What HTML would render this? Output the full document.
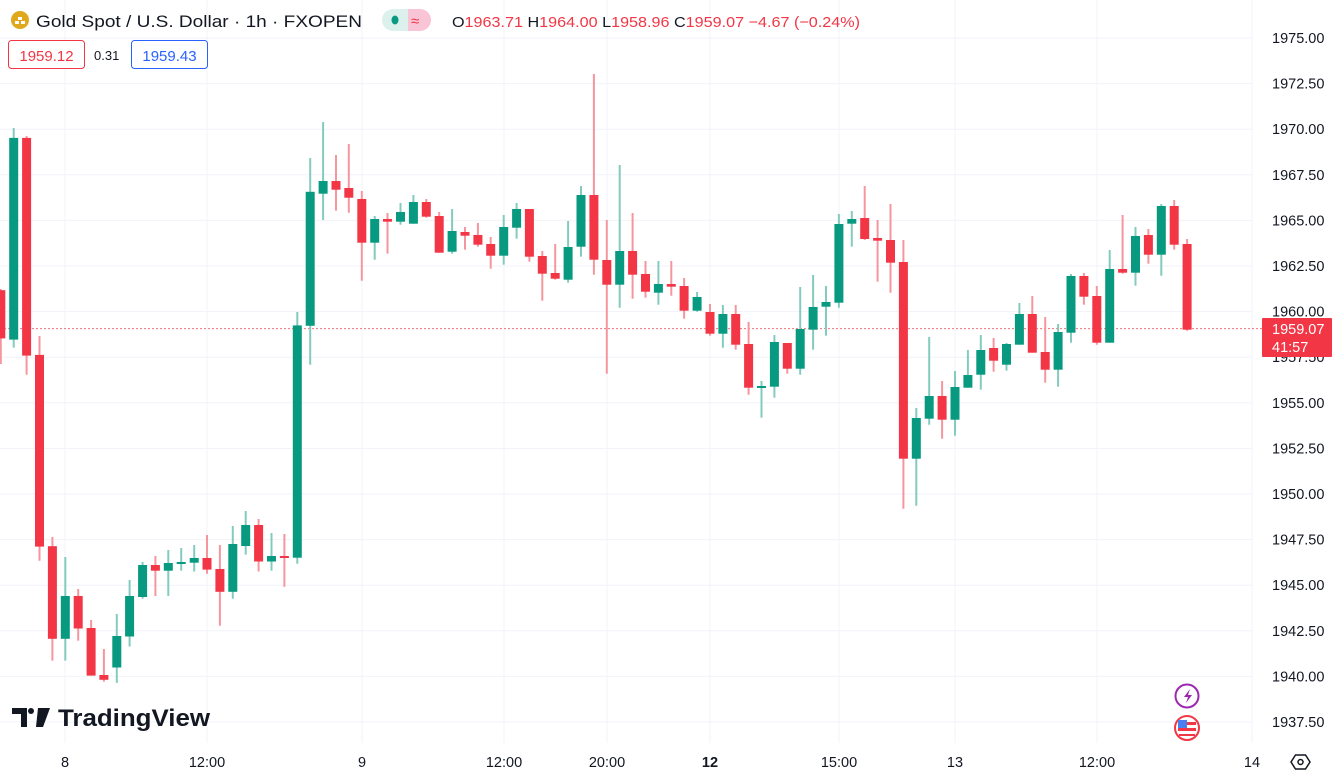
<!DOCTYPE html>
<html><head><meta charset="utf-8"><style>
html,body{margin:0;padding:0;background:#fff;width:1336px;height:778px;overflow:hidden}
svg{display:block;font-family:"Liberation Sans",sans-serif}
.g line{stroke:#84cbbf;stroke-width:2}.g rect{fill:#089981}
.r line{stroke:#f5969f;stroke-width:2}.r rect{fill:#f23645}
.ax{font-size:14.5px;fill:#131722}
</style></head><body>
<svg width="1336" height="778" viewBox="0 0 1336 778">
<g stroke="#f0f3fa" stroke-width="1">
<line x1="0" x2="1252" y1="38" y2="38"/><line x1="0" x2="1252" y1="83.6" y2="83.6"/><line x1="0" x2="1252" y1="129.2" y2="129.2"/><line x1="0" x2="1252" y1="174.8" y2="174.8"/><line x1="0" x2="1252" y1="220.4" y2="220.4"/><line x1="0" x2="1252" y1="266" y2="266"/><line x1="0" x2="1252" y1="311.6" y2="311.6"/><line x1="0" x2="1252" y1="357.2" y2="357.2"/><line x1="0" x2="1252" y1="402.8" y2="402.8"/><line x1="0" x2="1252" y1="448.4" y2="448.4"/><line x1="0" x2="1252" y1="494" y2="494"/><line x1="0" x2="1252" y1="539.6" y2="539.6"/><line x1="0" x2="1252" y1="585.2" y2="585.2"/><line x1="0" x2="1252" y1="630.8" y2="630.8"/><line x1="0" x2="1252" y1="676.4" y2="676.4"/><line x1="0" x2="1252" y1="722" y2="722"/>
<line x1="65" x2="65" y1="0" y2="743"/><line x1="207" x2="207" y1="0" y2="743"/><line x1="362" x2="362" y1="0" y2="743"/><line x1="504" x2="504" y1="0" y2="743"/><line x1="607" x2="607" y1="0" y2="743"/><line x1="710" x2="710" y1="0" y2="743"/><line x1="839" x2="839" y1="0" y2="743"/><line x1="955" x2="955" y1="0" y2="743"/><line x1="1097" x2="1097" y1="0" y2="743"/><line x1="1252" x2="1252" y1="0" y2="743"/>
</g>
<line x1="0" x2="1262" y1="328.6" y2="328.6" stroke="#f23645" stroke-width="1" stroke-dasharray="2,2" opacity="0.7"/>
<g class="r"><line x1="0.8" x2="0.8" y1="289" y2="364"/><rect x="-3.7" y="290.2" width="9" height="48.2"/></g>
<g class="g"><line x1="13.7" x2="13.7" y1="128" y2="347.6"/><rect x="9.2" y="137.9" width="9" height="201.7"/></g>
<g class="r"><line x1="26.6" x2="26.6" y1="136" y2="374.8"/><rect x="22.1" y="137.9" width="9" height="217.7"/></g>
<g class="r"><line x1="39.5" x2="39.5" y1="336" y2="560.8"/><rect x="35" y="354.9" width="9" height="191.7"/></g>
<g class="r"><line x1="52.4" x2="52.4" y1="537" y2="660.6"/><rect x="47.9" y="546.2" width="9" height="92.6"/></g>
<g class="g"><line x1="65.3" x2="65.3" y1="557" y2="660.6"/><rect x="60.8" y="596" width="9" height="42.8"/></g>
<g class="r"><line x1="78.2" x2="78.2" y1="589" y2="640.7"/><rect x="73.7" y="596" width="9" height="32.5"/></g>
<g class="r"><line x1="91.1" x2="91.1" y1="620" y2="675.6"/><rect x="86.6" y="628" width="9" height="47.6"/></g>
<g class="r"><line x1="103.9" x2="103.9" y1="649" y2="681.7"/><rect x="99.4" y="675" width="9" height="4.8"/></g>
<g class="g"><line x1="116.8" x2="116.8" y1="614" y2="682.9"/><rect x="112.3" y="636" width="9" height="31.5"/></g>
<g class="g"><line x1="129.6" x2="129.6" y1="580" y2="646.5"/><rect x="125.1" y="596" width="9" height="40.5"/></g>
<g class="g"><line x1="142.6" x2="142.6" y1="562" y2="598.7"/><rect x="138.1" y="565" width="9" height="32"/></g>
<g class="r"><line x1="155.4" x2="155.4" y1="556" y2="596"/><rect x="150.9" y="565" width="9" height="5.7"/></g>
<g class="g"><line x1="168.3" x2="168.3" y1="550" y2="596"/><rect x="163.8" y="563" width="9" height="7.7"/></g>
<g class="g"><line x1="181.2" x2="181.2" y1="548" y2="570.7"/><rect x="176.7" y="562" width="9" height="2"/></g>
<g class="g"><line x1="194.2" x2="194.2" y1="545" y2="571.5"/><rect x="189.7" y="558" width="9" height="4.7"/></g>
<g class="r"><line x1="207" x2="207" y1="535" y2="573.8"/><rect x="202.5" y="558" width="9" height="11.6"/></g>
<g class="r"><line x1="219.9" x2="219.9" y1="545" y2="625.8"/><rect x="215.4" y="569" width="9" height="22.8"/></g>
<g class="g"><line x1="232.8" x2="232.8" y1="526" y2="598.7"/><rect x="228.3" y="544" width="9" height="47.8"/></g>
<g class="g"><line x1="245.7" x2="245.7" y1="511" y2="554.6"/><rect x="241.2" y="525" width="9" height="21"/></g>
<g class="r"><line x1="258.6" x2="258.6" y1="519" y2="571.5"/><rect x="254.1" y="525" width="9" height="36.5"/></g>
<g class="g"><line x1="271.5" x2="271.5" y1="533" y2="570.7"/><rect x="267" y="556" width="9" height="5.5"/></g>
<g class="r"><line x1="284.4" x2="284.4" y1="534" y2="586.8"/><rect x="279.9" y="556" width="9" height="2"/></g>
<g class="g"><line x1="297.3" x2="297.3" y1="312" y2="563.8"/><rect x="292.8" y="325.4" width="9" height="232.3"/></g>
<g class="g"><line x1="310.2" x2="310.2" y1="158" y2="364.8"/><rect x="305.7" y="191.8" width="9" height="134"/></g>
<g class="g"><line x1="323.1" x2="323.1" y1="122" y2="220"/><rect x="318.6" y="181" width="9" height="12.7"/></g>
<g class="r"><line x1="336" x2="336" y1="155" y2="210.7"/><rect x="331.5" y="181" width="9" height="8.7"/></g>
<g class="r"><line x1="348.8" x2="348.8" y1="144" y2="212.7"/><rect x="344.3" y="188" width="9" height="9.7"/></g>
<g class="r"><line x1="361.8" x2="361.8" y1="191" y2="280.7"/><rect x="357.3" y="199" width="9" height="43.7"/></g>
<g class="g"><line x1="374.7" x2="374.7" y1="216" y2="259.7"/><rect x="370.2" y="219" width="9" height="23.7"/></g>
<g class="r"><line x1="387.5" x2="387.5" y1="213" y2="253.7"/><rect x="383" y="219" width="9" height="2.7"/></g>
<g class="g"><line x1="400.5" x2="400.5" y1="203" y2="224.7"/><rect x="396" y="212" width="9" height="9.7"/></g>
<g class="g"><line x1="413.4" x2="413.4" y1="195" y2="223.7"/><rect x="408.9" y="202" width="9" height="21.7"/></g>
<g class="r"><line x1="426.3" x2="426.3" y1="199" y2="217.7"/><rect x="421.8" y="202" width="9" height="14.7"/></g>
<g class="r"><line x1="439.2" x2="439.2" y1="212" y2="252.7"/><rect x="434.7" y="216" width="9" height="36.7"/></g>
<g class="g"><line x1="452.1" x2="452.1" y1="209" y2="253.7"/><rect x="447.6" y="231" width="9" height="20.7"/></g>
<g class="r"><line x1="465" x2="465" y1="227" y2="249.7"/><rect x="460.5" y="232" width="9" height="3.7"/></g>
<g class="r"><line x1="477.9" x2="477.9" y1="223" y2="246.7"/><rect x="473.4" y="235" width="9" height="9.7"/></g>
<g class="r"><line x1="490.7" x2="490.7" y1="237" y2="268.7"/><rect x="486.2" y="244" width="9" height="11.7"/></g>
<g class="g"><line x1="503.7" x2="503.7" y1="215" y2="264.7"/><rect x="499.2" y="227" width="9" height="28.7"/></g>
<g class="g"><line x1="516.6" x2="516.6" y1="203" y2="238.7"/><rect x="512.1" y="209" width="9" height="18.7"/></g>
<g class="r"><line x1="529.4" x2="529.4" y1="209" y2="261.7"/><rect x="524.9" y="209" width="9" height="47.7"/></g>
<g class="r"><line x1="542.3" x2="542.3" y1="251" y2="300.7"/><rect x="537.8" y="256" width="9" height="17.7"/></g>
<g class="r"><line x1="555.2" x2="555.2" y1="244" y2="279.7"/><rect x="550.7" y="273" width="9" height="5.7"/></g>
<g class="g"><line x1="568.1" x2="568.1" y1="221" y2="282.7"/><rect x="563.6" y="247" width="9" height="32.7"/></g>
<g class="g"><line x1="581" x2="581" y1="186" y2="256.7"/><rect x="576.5" y="195" width="9" height="51.7"/></g>
<g class="r"><line x1="593.9" x2="593.9" y1="74" y2="274.7"/><rect x="589.4" y="195" width="9" height="64.7"/></g>
<g class="r"><line x1="606.8" x2="606.8" y1="220" y2="373.7"/><rect x="602.3" y="260" width="9" height="24.7"/></g>
<g class="g"><line x1="619.7" x2="619.7" y1="165" y2="307.7"/><rect x="615.2" y="251" width="9" height="33.7"/></g>
<g class="r"><line x1="632.6" x2="632.6" y1="213" y2="298.7"/><rect x="628.1" y="251" width="9" height="23.7"/></g>
<g class="r"><line x1="645.5" x2="645.5" y1="261" y2="297.7"/><rect x="641" y="274" width="9" height="17.7"/></g>
<g class="g"><line x1="658.4" x2="658.4" y1="261" y2="304.7"/><rect x="653.9" y="284" width="9" height="8.7"/></g>
<g class="r"><line x1="671.3" x2="671.3" y1="261" y2="295.7"/><rect x="666.8" y="284" width="9" height="2.7"/></g>
<g class="r"><line x1="684.1" x2="684.1" y1="278" y2="318.7"/><rect x="679.6" y="286" width="9" height="24.7"/></g>
<g class="g"><line x1="697.1" x2="697.1" y1="292" y2="311.7"/><rect x="692.6" y="297" width="9" height="13.7"/></g>
<g class="r"><line x1="710" x2="710" y1="304" y2="335.7"/><rect x="705.5" y="312" width="9" height="21.7"/></g>
<g class="g"><line x1="722.9" x2="722.9" y1="305" y2="347.7"/><rect x="718.4" y="314" width="9" height="19.7"/></g>
<g class="r"><line x1="735.7" x2="735.7" y1="305" y2="349.7"/><rect x="731.2" y="314" width="9" height="30.7"/></g>
<g class="r"><line x1="748.6" x2="748.6" y1="322" y2="394.7"/><rect x="744.1" y="344" width="9" height="43.7"/></g>
<g class="g"><line x1="761.5" x2="761.5" y1="381" y2="417.7"/><rect x="757" y="386" width="9" height="2"/></g>
<g class="g"><line x1="774.4" x2="774.4" y1="335" y2="397.7"/><rect x="769.9" y="342" width="9" height="44.7"/></g>
<g class="r"><line x1="787.3" x2="787.3" y1="343" y2="373.7"/><rect x="782.8" y="343" width="9" height="25.7"/></g>
<g class="g"><line x1="800.2" x2="800.2" y1="287" y2="374.7"/><rect x="795.7" y="329" width="9" height="39.7"/></g>
<g class="g"><line x1="813.1" x2="813.1" y1="275" y2="349.7"/><rect x="808.6" y="307" width="9" height="22.7"/></g>
<g class="g"><line x1="826" x2="826" y1="286" y2="335.7"/><rect x="821.5" y="302" width="9" height="4.7"/></g>
<g class="g"><line x1="838.9" x2="838.9" y1="214" y2="307.7"/><rect x="834.4" y="224" width="9" height="78.7"/></g>
<g class="g"><line x1="851.8" x2="851.8" y1="211" y2="246.7"/><rect x="847.3" y="219" width="9" height="4.7"/></g>
<g class="r"><line x1="864.7" x2="864.7" y1="186" y2="240"/><rect x="860.2" y="218" width="9" height="21"/></g>
<g class="r"><line x1="877.6" x2="877.6" y1="220" y2="281.7"/><rect x="873.1" y="238" width="9" height="2.7"/></g>
<g class="r"><line x1="890.5" x2="890.5" y1="204" y2="292.7"/><rect x="886" y="240" width="9" height="22.7"/></g>
<g class="r"><line x1="903.4" x2="903.4" y1="240" y2="508.7"/><rect x="898.9" y="262" width="9" height="196.7"/></g>
<g class="g"><line x1="916.3" x2="916.3" y1="408" y2="505.7"/><rect x="911.8" y="418" width="9" height="40.7"/></g>
<g class="g"><line x1="929.2" x2="929.2" y1="337" y2="424.7"/><rect x="924.7" y="396" width="9" height="22.7"/></g>
<g class="r"><line x1="942.1" x2="942.1" y1="381" y2="438.7"/><rect x="937.6" y="396" width="9" height="23.7"/></g>
<g class="g"><line x1="955" x2="955" y1="371" y2="435.7"/><rect x="950.5" y="387" width="9" height="32.7"/></g>
<g class="g"><line x1="967.9" x2="967.9" y1="350" y2="387.7"/><rect x="963.4" y="375" width="9" height="12.7"/></g>
<g class="g"><line x1="980.8" x2="980.8" y1="335" y2="389.7"/><rect x="976.3" y="350" width="9" height="24.7"/></g>
<g class="r"><line x1="993.6" x2="993.6" y1="338" y2="371.7"/><rect x="989.1" y="348" width="9" height="12.7"/></g>
<g class="g"><line x1="1006.5" x2="1006.5" y1="343" y2="370.7"/><rect x="1002" y="344" width="9" height="20.7"/></g>
<g class="g"><line x1="1019.4" x2="1019.4" y1="303" y2="344.7"/><rect x="1014.9" y="314" width="9" height="30.7"/></g>
<g class="r"><line x1="1032.3" x2="1032.3" y1="296" y2="352.7"/><rect x="1027.8" y="314" width="9" height="38.7"/></g>
<g class="r"><line x1="1045.2" x2="1045.2" y1="317" y2="382.7"/><rect x="1040.7" y="352" width="9" height="17.7"/></g>
<g class="g"><line x1="1058.1" x2="1058.1" y1="324" y2="386.7"/><rect x="1053.6" y="332" width="9" height="37.7"/></g>
<g class="g"><line x1="1071" x2="1071" y1="274" y2="342.7"/><rect x="1066.5" y="276" width="9" height="56.7"/></g>
<g class="r"><line x1="1083.9" x2="1083.9" y1="273" y2="304.7"/><rect x="1079.4" y="276" width="9" height="20.7"/></g>
<g class="r"><line x1="1096.8" x2="1096.8" y1="286" y2="344.7"/><rect x="1092.3" y="296" width="9" height="46.7"/></g>
<g class="g"><line x1="1109.7" x2="1109.7" y1="250" y2="342.7"/><rect x="1105.2" y="269" width="9" height="73.7"/></g>
<g class="r"><line x1="1122.6" x2="1122.6" y1="215" y2="273.7"/><rect x="1118.1" y="269" width="9" height="3.7"/></g>
<g class="g"><line x1="1135.5" x2="1135.5" y1="227" y2="285.7"/><rect x="1131" y="236" width="9" height="36.7"/></g>
<g class="r"><line x1="1148.4" x2="1148.4" y1="229" y2="263.7"/><rect x="1143.9" y="235" width="9" height="19.7"/></g>
<g class="g"><line x1="1161.3" x2="1161.3" y1="204" y2="275.7"/><rect x="1156.8" y="206" width="9" height="48.7"/></g>
<g class="r"><line x1="1174.2" x2="1174.2" y1="200" y2="249.7"/><rect x="1169.7" y="206" width="9" height="38.7"/></g>
<g class="r"><line x1="1187.1" x2="1187.1" y1="239" y2="330.7"/><rect x="1182.6" y="244" width="9" height="85.7"/></g>

<g class="ax" text-anchor="start">
<text x="1272" y="43">1975.00</text><text x="1272" y="88.6">1972.50</text><text x="1272" y="134.2">1970.00</text><text x="1272" y="179.8">1967.50</text><text x="1272" y="225.4">1965.00</text><text x="1272" y="271">1962.50</text><text x="1272" y="316.6">1960.00</text><text x="1272" y="362.2">1957.50</text><text x="1272" y="407.8">1955.00</text><text x="1272" y="453.4">1952.50</text><text x="1272" y="499">1950.00</text><text x="1272" y="544.6">1947.50</text><text x="1272" y="590.2">1945.00</text><text x="1272" y="635.8">1942.50</text><text x="1272" y="681.4">1940.00</text><text x="1272" y="727">1937.50</text>
</g>
<rect x="1262" y="318" width="70" height="39" fill="#f23645" rx="1"/>
<text x="1272" y="334" font-size="14.5" fill="#fff">1959.07</text>
<text x="1272" y="352" font-size="14.5" fill="#fff">41:57</text>

<g class="ax" text-anchor="middle">
<text x="65" y="767">8</text><text x="207" y="767">12:00</text><text x="362" y="767">9</text><text x="504" y="767">12:00</text><text x="607" y="767">20:00</text><text x="710" y="767" font-weight="bold">12</text><text x="839" y="767">15:00</text><text x="955" y="767">13</text><text x="1097" y="767">12:00</text><text x="1252" y="767">14</text>
</g>
<polygon points="1291,762 1295.5,755 1305.5,755 1310,762 1305.5,769 1295.5,769" fill="none" stroke="#131722" stroke-width="1.5"/>
<circle cx="1300.5" cy="762" r="2.5" fill="none" stroke="#131722" stroke-width="1.5"/>

<circle cx="20" cy="20" r="9" fill="#e0a81c"/>
<path d="M15 24h4v-3h-4zM21 24h4v-3h-4zM18 20h4v-3h-4z" fill="#fff"/>
<text x="36" y="27" font-size="17" fill="#131722" textLength="326" lengthAdjust="spacingAndGlyphs">Gold Spot / U.S. Dollar · 1h · FXOPEN</text>
<rect x="382" y="9" width="26" height="22" rx="11" fill="#dcf1ec"/>
<rect x="395" y="9" width="36" height="22" rx="11" fill="#f8c4d6"/>
<rect x="395" y="9" width="13" height="22" fill="#dcf1ec"/>
<ellipse cx="395" cy="20" rx="3.5" ry="4.5" fill="#089981"/>
<text x="411" y="26" font-size="15" fill="#f23645">≈</text>
<text x="452" y="27" font-size="15" fill="#131722" textLength="408" lengthAdjust="spacingAndGlyphs">O<tspan fill="#f23645">1963.71</tspan> H<tspan fill="#f23645">1964.00</tspan> L<tspan fill="#f23645">1958.96</tspan> C<tspan fill="#f23645">1959.07</tspan> <tspan fill="#f23645">−4.67 (−0.24%)</tspan></text>
<rect x="8.5" y="40.5" width="76" height="28" rx="3" fill="#fff" stroke="#f23645"/>
<text x="46.5" y="61" font-size="15" fill="#f23645" text-anchor="middle">1959.12</text>
<text x="94" y="60" font-size="13" fill="#131722">0.31</text>
<rect x="131.5" y="40.5" width="76" height="28" rx="3" fill="#fff" stroke="#2962ff"/>
<text x="169.5" y="61" font-size="15" fill="#2962ff" text-anchor="middle">1959.43</text>

<path d="M12 708h15v19h-6v-13h-9z" fill="#131722"/>
<circle cx="31" cy="711" r="3" fill="#131722"/>
<path d="M38 708h12l-7 19h-7z" fill="#131722"/>
<text x="58" y="726" font-size="24" font-weight="bold" fill="#131722" textLength="152" lengthAdjust="spacingAndGlyphs">TradingView</text>

<circle cx="1187" cy="696" r="11.5" fill="#fff" stroke="#9c27b0" stroke-width="2"/>
<path d="M1190 689l-6 8h4l-2 6 6-8h-4z" fill="#9c27b0"/>
<circle cx="1187" cy="728" r="12" fill="#fff" stroke="#f23645" stroke-width="2"/>
<rect x="1178" y="722" width="18" height="3" fill="#f23645"/><rect x="1178" y="728" width="18" height="3" fill="#f23645"/><rect x="1179" y="734" width="16" height="2" fill="#f23645"/>
<rect x="1178" y="720" width="9" height="8" fill="#4a7ff0"/>
</svg>
</body></html>
